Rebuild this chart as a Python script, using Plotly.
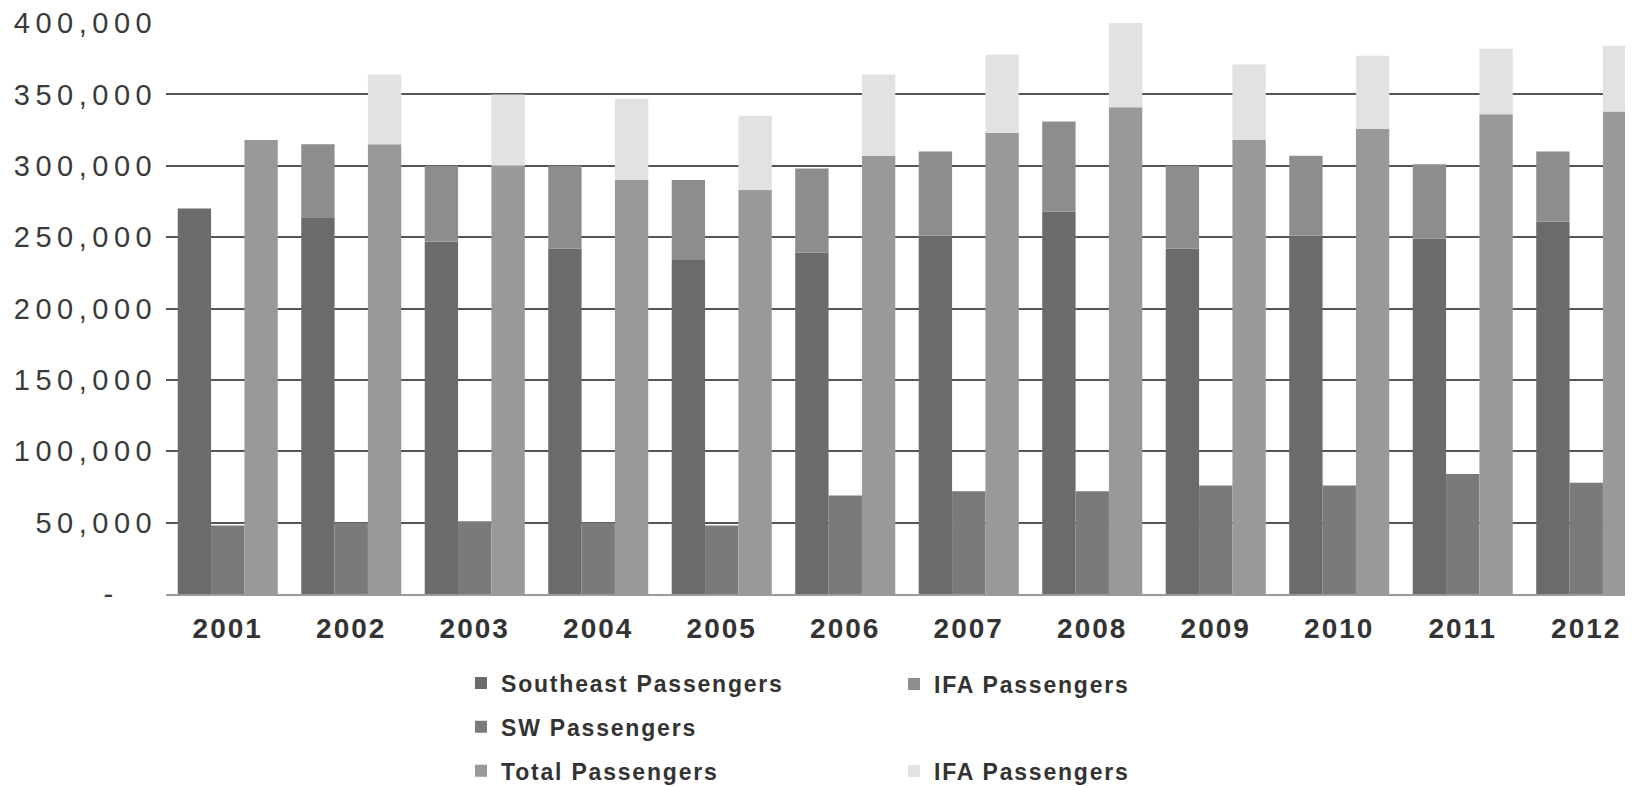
import plotly.graph_objects as go

years = [str(y) for y in range(2001, 2013)]
southeast = [270000, 264000, 247000, 242000, 234000, 239000, 251000, 268000, 242000, 251000, 249000, 261000]
ifa_on_southeast = [None, 51000, 53000, 58000, 56000, 59000, 59000, 63000, 58000, 56000, 52000, 49000]
sw = [48000, 50000, 51000, 50000, 48000, 69000, 72000, 72000, 76000, 76000, 84000, 78000]
total = [318000, 315000, 300000, 290000, 283000, 307000, 323000, 341000, 318000, 326000, 336000, 338000]
ifa_on_total = [None, 49000, 50000, 57000, 52000, 57000, 55000, 65000, 53000, 51000, 46000, 46000]

tick_vals = [0, 50000, 100000, 150000, 200000, 250000, 300000, 350000, 400000]
tick_text = ["-\u00a0\u00a0\u2009", "50,000", "100,000", "150,000", "200,000",
             "250,000", "300,000", "350,000", "400,000"]


def spaced(t, px):
    return f'<span style="letter-spacing:{px}px">{t}</span>'


C_SE = "#6b6b6b"
C_IFA1 = "#8d8d8d"
C_SW = "#7a7a7a"
C_TOT = "#999999"
C_IFA2 = "#e2e2e2"

LS = 1.8  # legend letter spacing

fig = go.Figure()
fig.add_bar(x=years, y=southeast, name=spaced("Southeast Passengers", LS), offsetgroup="se",
            marker=dict(color=C_SE, line=dict(width=0)), legend="legend", legendgroup="a")
fig.add_bar(x=years, y=ifa_on_southeast, base=southeast, name=spaced("IFA Passengers", LS), offsetgroup="se",
            marker=dict(color=C_IFA1, line=dict(width=0)), legend="legend2")
fig.add_bar(x=years, y=sw, name=spaced("SW Passengers", LS), offsetgroup="sw",
            marker=dict(color=C_SW, line=dict(width=0)), legend="legend", legendgroup="b")
fig.add_bar(x=years, y=total, name=spaced("Total Passengers", LS), offsetgroup="tot",
            marker=dict(color=C_TOT, line=dict(width=0)), legend="legend", legendgroup="c")
fig.add_bar(x=years, y=ifa_on_total, base=total, name=spaced("IFA Passengers", LS), offsetgroup="tot",
            marker=dict(color=C_IFA2, line=dict(width=0)), legend="legend3")

# page body has an 8px margin; the figure is a little taller than the window
# so the bottom legend box never pushes the plot margins
W, H = 1625, 800
L, R, T, B = 158, 0, 15, 214
pw = W - L - R
ph = H - T - B
step = 123.5


def px_x(p):
    return (p - L) / pw


def px_y(p):
    return (H - B - p) / ph


legend_font = dict(family="Liberation Sans", size=23, color="#333333", weight="bold")
leg_common = dict(xanchor="left", yanchor="middle", font=legend_font, itemwidth=30,
                  bgcolor="rgba(0,0,0,0)")

fig.update_layout(
    width=W, height=H,
    margin=dict(l=L, r=R, t=T, b=B, pad=0),
    paper_bgcolor="white", plot_bgcolor="white",
    barmode="group", bargap=0.19, bargroupgap=0,
    font=dict(family="Liberation Sans", color="#333333"),
    xaxis=dict(
        type="category", range=[-0.5, -0.5 + pw / step], automargin=False,
        tickvals=years, ticktext=[spaced(y, 2) for y in years],
        tickfont=dict(family="Liberation Sans", size=28, color="#333333", weight="bold"),
        ticks="outside", ticklen=8, tickcolor="rgba(0,0,0,0)",
        showline=True, linecolor="#9a9a9a", linewidth=2, showgrid=False,
    ),
    yaxis=dict(
        range=[0, 400000], tickvals=tick_vals, ticktext=[spaced(t, 5.5) for t in tick_text],
        tickfont=dict(family="Liberation Sans", size=29, color="#3a3a3a"),
        ticks="outside", ticklen=2, tickcolor="rgba(0,0,0,0)", automargin=False,
        ticklabeloverflow="allow",
        showgrid=True, gridcolor="#555555", gridwidth=1.5, zeroline=False,
    ),
    legend=dict(x=px_x(453), y=px_y(719), orientation="v",
                traceorder="grouped", tracegroupgap=11, **leg_common),
    legend2=dict(x=px_x(886), y=px_y(676), **leg_common),
    legend3=dict(x=px_x(886), y=px_y(763), **leg_common),
)

fig.write_html("out.html")
